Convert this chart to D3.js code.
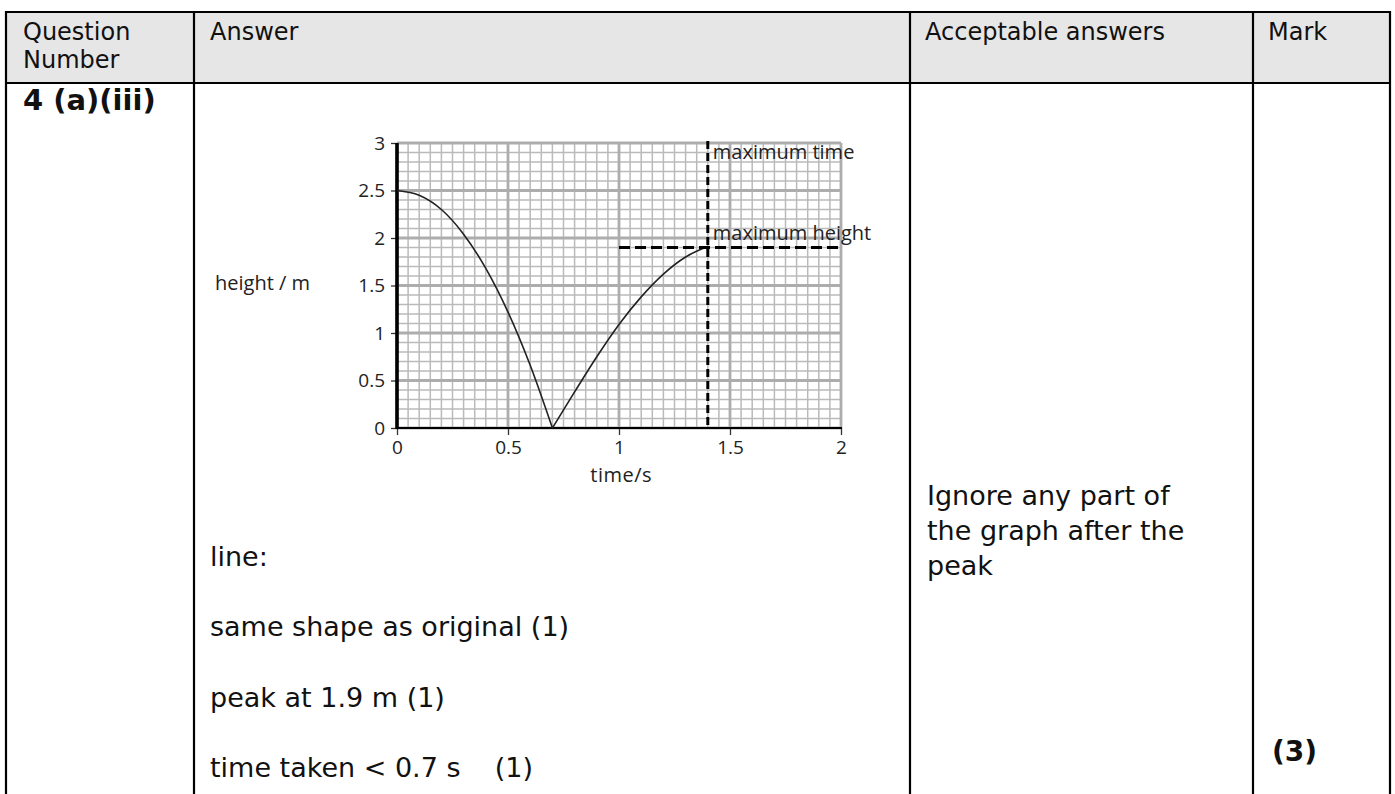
<!DOCTYPE html>
<html><head><meta charset="utf-8">
<script src="https://cdn.jsdelivr.net/npm/d3@7"></script>
<style>html,body{margin:0;padding:0;background:#fff;} svg{display:block;}</style>
</head><body>
<svg id="chart" width="1395" height="794"></svg>
<script>
// ---------- data ----------
const xTicks = [0, 0.5, 1, 1.5, 2];
const yTicks = [0, 0.5, 1, 1.5, 2, 2.5, 3];
const fallTime   = [0, 0.1, 0.2, 0.3, 0.4, 0.5, 0.6, 0.7];
const fallHeight = [2.5, 2.45, 2.30, 2.04, 1.68, 1.22, 0.66, 0];
const riseTime   = [0.7, 0.8, 0.9, 1.0, 1.1, 1.2, 1.3, 1.4];
const riseHeight = [0, 0.38, 0.75, 1.09, 1.38, 1.62, 1.80, 1.91];
const maxTime = 1.4;
const maxHeight = 1.9;
const maxHeightFrom = 1.0;
const xLabel = "time/s";
const yLabel = "height / m";
const annotations = ["maximum time", "maximum height"];
const headerLine1 = ["Question", "Answer", "Acceptable answers", "Mark"];
const headerLine2 = ["Number", "", "", ""];
const questionLabel = "4 (a)(iii)";
const answerLines = ["line:", "same shape as original (1)", "peak at 1.9 m (1)", "time taken < 0.7 s    (1)"];
const acceptableLines = ["Ignore any part of", "the graph after the", "peak"];
const markLabel = "(3)";

// ---------- layout ----------
const W = 1395, H = 794;
const colX = [6, 194, 910, 1253, 1390];
const tableTop = 12, headerBottom = 83;
const svg = d3.select("#chart");
const bodyFont = "'DejaVu Sans', Verdana, sans-serif";
const chartFont = "'Open Sans', sans-serif";

// table
svg.append("rect").attr("x", colX[0]).attr("y", tableTop)
  .attr("width", colX[4] - colX[0]).attr("height", headerBottom - tableTop)
  .attr("fill", "#e6e6e6");
const tl = svg.append("g").attr("stroke", "#000").attr("stroke-width", 2.2);
tl.append("line").attr("x1", colX[0] - 1).attr("x2", colX[4] + 1).attr("y1", tableTop).attr("y2", tableTop);
tl.append("line").attr("x1", colX[0] - 1).attr("x2", colX[4] + 1).attr("y1", headerBottom).attr("y2", headerBottom);
colX.forEach(cx => tl.append("line").attr("x1", cx).attr("x2", cx).attr("y1", tableTop - 1).attr("y2", H + 2));

const hdrX = [23, 210, 925, 1268];
headerLine1.forEach((t, i) => {
  svg.append("text").attr("x", hdrX[i]).attr("y", 40).text(t)
    .attr("font-family", bodyFont).attr("font-size", 24).attr("fill", "#111");
  if (headerLine2[i]) svg.append("text").attr("x", hdrX[i]).attr("y", 68).text(headerLine2[i])
    .attr("font-family", bodyFont).attr("font-size", 24).attr("fill", "#111");
});
svg.append("text").attr("x", 23).attr("y", 110).text(questionLabel)
  .attr("font-family", bodyFont).attr("font-size", 29).attr("font-weight", "bold").attr("fill", "#111");

answerLines.forEach((t, i) => {
  svg.append("text").attr("x", 210).attr("y", 566 + i * 70.3).text(t)
    .attr("xml:space", "preserve").style("white-space", "pre")
    .attr("font-family", bodyFont).attr("font-size", 27).attr("fill", "#111");
});
acceptableLines.forEach((t, i) => {
  svg.append("text").attr("x", 927).attr("y", 505 + i * 35).text(t)
    .attr("font-family", bodyFont).attr("font-size", 27).attr("fill", "#111");
});
svg.append("text").attr("x", 1272).attr("y", 761).text(markLabel)
  .attr("font-family", bodyFont).attr("font-size", 28).attr("font-weight", "bold").attr("fill", "#111");

// ---------- chart ----------
const x = d3.scaleLinear().domain([0, 2]).range([397, 841]);
const y = d3.scaleLinear().domain([0, 3]).range([428, 143]);
const g = svg.append("g");

// minor grid
const minorX = x.ticks(40), minorY = y.ticks(30);
g.append("g").selectAll("line").data(minorX).join("line")
  .attr("x1", d => x(d)).attr("x2", d => x(d)).attr("y1", y(0)).attr("y2", y(3))
  .attr("stroke", "#bababa").attr("stroke-width", 1.5);
g.append("g").selectAll("line").data(minorY).join("line")
  .attr("x1", x(0)).attr("x2", x(2)).attr("y1", d => y(d)).attr("y2", d => y(d))
  .attr("stroke", "#bababa").attr("stroke-width", 1.5);
// major grid
g.append("g").selectAll("line").data(xTicks).join("line")
  .attr("x1", d => x(d)).attr("x2", d => x(d)).attr("y1", y(0)).attr("y2", y(3))
  .attr("stroke", "#adadad").attr("stroke-width", 2.8);
g.append("g").selectAll("line").data(yTicks).join("line")
  .attr("x1", x(0)).attr("x2", x(2)).attr("y1", d => y(d)).attr("y2", d => y(d))
  .attr("stroke", "#adadad").attr("stroke-width", 2.8);

// axes
const yAxis = g.append("g").attr("transform", `translate(${x(0)},0)`)
  .call(d3.axisLeft(y).tickValues(yTicks).tickSize(6).tickPadding(6).tickFormat(d => String(d)));
const xAxis = g.append("g").attr("transform", `translate(0,${y(0)})`)
  .call(d3.axisBottom(x).tickValues(xTicks).tickSize(7).tickPadding(6).tickFormat(d => String(d)));
[yAxis, xAxis].forEach(a => {
  a.select(".domain").remove();
  a.selectAll(".tick line").attr("stroke", "#333").attr("stroke-width", 1.3);
  a.selectAll("text").attr("font-family", chartFont).attr("font-size", 19).attr("fill", "#222");
});
g.append("line").attr("x1", x(0) - 1).attr("x2", x(2) + 1).attr("y1", y(0)).attr("y2", y(0))
  .attr("stroke", "#000").attr("stroke-width", 2.2);
g.append("line").attr("x1", x(0)).attr("x2", x(0)).attr("y1", y(0) + 1).attr("y2", y(3))
  .attr("stroke", "#000").attr("stroke-width", 3.6);

// curve
const line = d3.line().x(d => x(d[0])).y(d => y(d[1])).curve(d3.curveMonotoneX);
g.append("path").datum(fallTime.map((t, i) => [t, fallHeight[i]])).attr("d", line)
  .attr("fill", "none").attr("stroke", "#222").attr("stroke-width", 1.6);
g.append("path").datum(riseTime.map((t, i) => [t, riseHeight[i]])).attr("d", line)
  .attr("fill", "none").attr("stroke", "#222").attr("stroke-width", 1.6);

// dashed markers
g.append("line").attr("x1", x(maxTime)).attr("x2", x(maxTime)).attr("y1", y(3) - 2).attr("y2", y(0))
  .attr("stroke", "#000").attr("stroke-width", 3).attr("stroke-dasharray", "8,4");
g.append("line").attr("x1", x(maxHeightFrom)).attr("x2", x(2)).attr("y1", y(maxHeight)).attr("y2", y(maxHeight))
  .attr("stroke", "#000").attr("stroke-width", 3).attr("stroke-dasharray", "11,5");

g.append("text").attr("x", x(maxTime) + 5).attr("y", y(2.83)).text(annotations[0])
  .attr("font-family", chartFont).attr("font-size", 20).attr("fill", "#222");
g.append("text").attr("x", x(maxTime) + 5).attr("y", y(2.0) + 2).text(annotations[1])
  .attr("font-family", chartFont).attr("font-size", 20).attr("fill", "#222");

// axis labels
g.append("text").attr("x", 215).attr("y", 290).text(yLabel)
  .attr("font-family", chartFont).attr("font-size", 20).attr("fill", "#222");
g.append("text").attr("x", x(1.01)).attr("y", 482).attr("text-anchor", "middle").text(xLabel)
  .attr("font-family", chartFont).attr("font-size", 20).attr("letter-spacing", 0.5).attr("fill", "#222");
</script>
</body></html>
